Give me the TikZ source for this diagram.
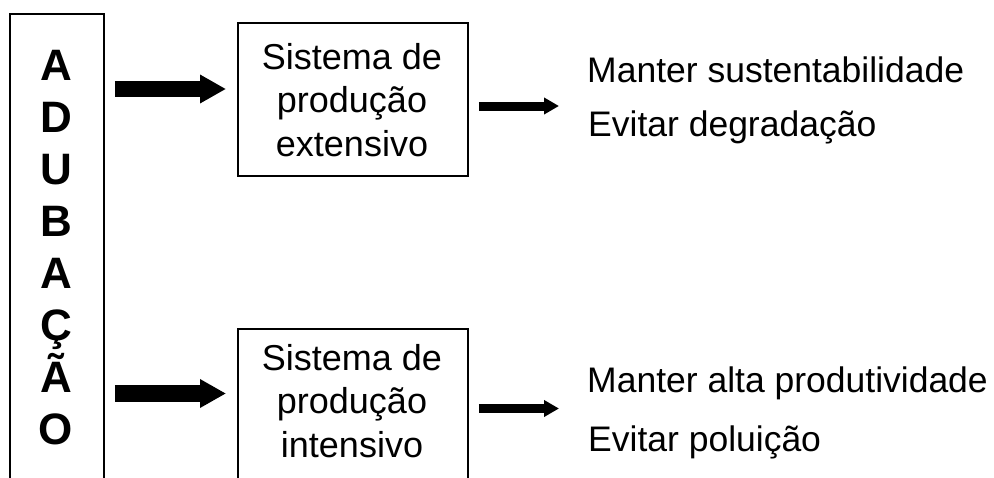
\documentclass[tikz,border=0pt]{standalone}
\usepackage{fontspec}
\setmainfont{Liberation Sans}
\usetikzlibrary{arrows.meta,calc}
\begin{document}
\begin{tikzpicture}[x=1pt,y=-1pt,
  boxline/.style={draw, line width=1.8pt, inner sep=0pt},
  boxtext/.style={font=\fontsize{36}{43.5}\selectfont, align=center, inner sep=0pt},
  letter/.style={font=\fontsize{44}{44}\selectfont\bfseries, inner sep=0pt, anchor=base},
  restext/.style={font=\fontsize{35.5}{40}\selectfont, inner sep=0pt, anchor=base west},
  bigarrow/.style={line width=16.5pt, -{Triangle[length=26pt,width=27pt]}},
  smallarrow/.style={line width=9pt, -{Triangle[length=15pt,width=16pt]}}]
\clip (0,0) rectangle (994,477);
\fill[white] (0,0) rectangle (994,477);
% left column box
\node[boxline, minimum width=94pt, minimum height=500pt, anchor=north west] (adub) at (9,13) {};
\foreach \l [count=\i from 0] in {A,D,U,B,A,Ç,Ã,O}
  \node[letter] (l\i) at (56,80+52*\i) {\l};
% system boxes
\node[boxline, minimum width=230pt, minimum height=153pt, anchor=north west] (sys1) at (237,22) {};
\node[boxtext, anchor=north] (t1) at (352,43) {Sistema de\\produção\\extensivo};
\node[boxline, minimum width=230pt, minimum height=200pt, anchor=north west] (sys2) at (237,328) {};
\node[boxtext, anchor=north] (t2) at (352,344) {Sistema de\\produção\\intensivo};
% result texts
\node[restext] (m1) at (587,82) {Manter sustentabilidade};
\node[restext] (e1) at (588,136) {Evitar degradação};
\node[restext] (m2) at (587,392) {Manter alta produtividade};
\node[restext] (e2) at (588,451) {Evitar poluição};
% arrow rows
\coordinate (r1) at (0,89);
\coordinate (r2) at (0,106);
\coordinate (r3) at (0,393.5);
\coordinate (r4) at (0,408.5);
\draw[bigarrow] ([xshift=10pt]adub.east |- r1) -- ([xshift=-11pt]sys1.west |- r1);
\draw[bigarrow] ([xshift=10pt]adub.east |- r3) -- ([xshift=-11pt]sys2.west |- r3);
\draw[smallarrow] ([xshift=10pt]sys1.east |- r2) -- ([xshift=-28pt]m1.west |- r2);
\draw[smallarrow] ([xshift=10pt]sys2.east |- r4) -- ([xshift=-28pt]m2.west |- r4);
\end{tikzpicture}
\end{document}
